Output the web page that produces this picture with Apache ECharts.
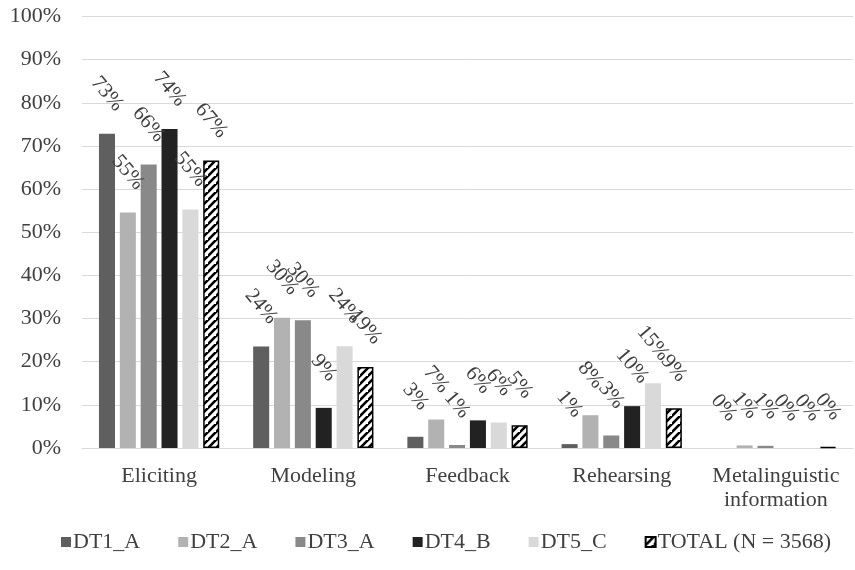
<!DOCTYPE html>
<html>
<head>
<meta charset="utf-8">
<script src="https://cdn.jsdelivr.net/npm/echarts@6/dist/echarts.min.js"></script>
<style>
  html, body { margin: 0; padding: 0; background: #fff; }
  #chart { width: 855px; height: 570px; }
</style>
</head>
<body>
<div id="chart"></div>
<script>
// Share of each move type per data set (percent)
const categories = ['Eliciting', 'Modeling', 'Feedback', 'Rehearsing', 'Metalinguistic\ninformation'];
const seriesNames = ['DT1_A', 'DT2_A', 'DT3_A', 'DT4_B', 'DT5_C', 'TOTAL (N = 3568)'];
const dt1A  = [72.8, 23.5, 2.6, 0.9, 0];
const dt2A  = [54.6, 30.2, 6.6, 7.6, 0.6];
const dt3A  = [65.7, 29.6, 0.7, 2.9, 0.5];
const dt4B  = [73.9, 9.3, 6.4, 9.7, 0];
const dt5C  = [55.3, 23.6, 5.9, 15.0, 0];
const total = [66.6, 18.8, 5.3, 9.2, 0.2];
const yTicks = [0, 10, 20, 30, 40, 50, 60, 70, 80, 90, 100];

const FONT = '"Liberation Serif", "DejaVu Serif", serif';
const TEXT = '#404040';

// Diagonal hatch fill for the TOTAL bars
function hatch() {
  const c = document.createElement('canvas');
  const s = 8;
  c.width = s; c.height = s;
  const g = c.getContext('2d');
  g.fillStyle = '#ffffff';
  g.fillRect(0, 0, s, s);
  g.strokeStyle = '#000000';
  g.lineWidth = 2.6;
  g.beginPath();
  g.moveTo(-2, s + 2); g.lineTo(s + 2, -2);
  g.moveTo(-2 - s, s + 2); g.lineTo(2, -2);
  g.moveTo(s - 2, 2 * s + 2); g.lineTo(2 * s + 2, s - 2);
  g.stroke();
  return c;
}

// Value labels: rotated text centred a fixed distance above each bar.
// The label offset lives in the rotated frame, so turn the screen-space
// shift back by the label angle.
const LABEL_ANGLE = -50;
const LABEL_LIFT = 40;
const rad = -LABEL_ANGLE * Math.PI / 180;
const labelOffset = [-LABEL_LIFT * Math.sin(rad), -LABEL_LIFT * Math.cos(rad)];

const fills = ['#5f5f5f', '#b2b2b2', '#898989', '#222222', '#d9d9d9', { image: hatch(), repeat: 'repeat' }];
const dataSets = [dt1A, dt2A, dt3A, dt4B, dt5C, total];

const series = dataSets.map((vals, i) => ({
  name: seriesNames[i],
  type: 'bar',
  data: vals,
  barGap: '30%',
  barCategoryGap: '22%',
  itemStyle: i === 5
    ? { color: fills[i], borderColor: '#000', borderWidth: 1.5 }
    : { color: fills[i] },
  label: {
    show: true,
    position: 'top',
    distance: 0,
    rotate: LABEL_ANGLE,
    align: 'center',
    verticalAlign: 'middle',
    offset: labelOffset,
    formatter: p => Math.round(p.value) + '%',
    fontFamily: FONT,
    fontSize: 21,
    color: TEXT
  },
  emphasis: { disabled: true }
}));

const chart = echarts.init(document.getElementById('chart'), null, { renderer: 'canvas' });
chart.setOption({
  animation: false,
  backgroundColor: '#ffffff',
  textStyle: { fontFamily: FONT },
  grid: { left: 82, right: 2, top: 16.5, bottom: 122, containLabel: false },
  legend: {
    data: seriesNames,
    bottom: 12,
    left: 56,
    itemWidth: 10,
    itemHeight: 10,
    itemGap: 38,
    icon: 'rect',
    textStyle: { fontFamily: FONT, fontSize: 22, color: TEXT, padding: [0, 0, 0, -3] }
  },
  xAxis: {
    type: 'category',
    data: categories,
    axisLine: { show: true, lineStyle: { color: '#d9d9d9', width: 1 } },
    axisTick: { show: false },
    axisLabel: { fontFamily: FONT, fontSize: 22, color: TEXT, margin: 16, lineHeight: 24, interval: 0 }
  },
  yAxis: {
    type: 'value',
    min: yTicks[0],
    max: yTicks[yTicks.length - 1],
    interval: 10,
    axisLine: { show: false },
    axisTick: { show: false },
    splitLine: { lineStyle: { color: '#d9d9d9', width: 1 } },
    axisLabel: { fontFamily: FONT, fontSize: 22, color: TEXT, margin: 21, formatter: v => v + '%' }
  },
  series: series
});
</script>
</body>
</html>
